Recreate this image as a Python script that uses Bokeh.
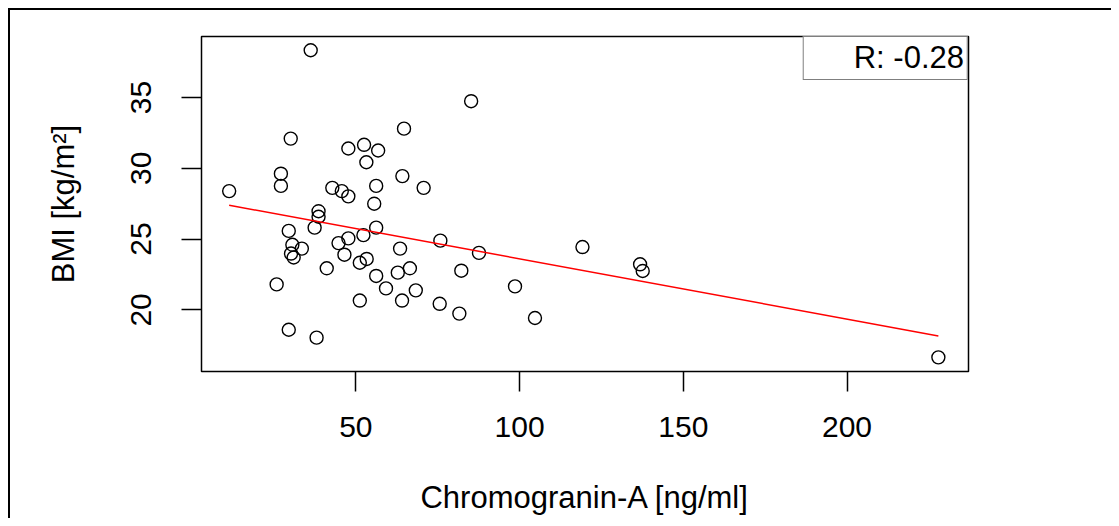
from bokeh.plotting import figure
from bokeh.models import Range1d, FixedTicker, Legend, LegendItem
from bokeh.embed import file_html
from bokeh.resources import INLINE

# Data
cga = [11.3, 27.1, 27.1, 30.1, 36.2, 29.5, 30.6, 33.5, 30.2, 31.0,
       25.8, 29.5, 38.0, 38.6, 38.6, 37.4, 41.1, 42.8, 45.7, 47.7,
       47.7, 52.5, 56.8, 53.2, 44.7, 47.7, 52.3, 46.5, 51.2, 53.3,
       51.2, 56.2, 55.6, 56.2, 56.2, 59.2, 62.8, 63.5, 64.1, 64.2,
       64.7, 66.5, 68.3, 70.7, 75.8, 75.6, 81.6, 82.2, 85.2, 87.6,
       98.6, 104.7, 119.2, 136.8, 137.6, 227.9]
bmi = [28.39, 29.62, 28.76, 32.10, 38.34, 25.58, 24.60, 24.33, 23.98, 23.70,
       21.80, 18.60, 18.04, 26.97, 26.58, 25.81, 22.94, 28.62, 28.39, 28.02,
       31.40, 31.66, 31.26, 30.43, 24.72, 25.05, 25.28, 23.90, 23.33, 23.60,
       20.66, 28.76, 27.50, 25.81, 22.40, 21.52, 22.63, 24.33, 20.66, 29.45,
       32.80, 22.94, 21.38, 28.62, 24.89, 20.43, 19.74, 22.77, 34.74, 24.03,
       21.66, 19.43, 24.44, 23.22, 22.75, 16.65]

fit_cga = [11.3, 227.9]
fit_bmi = [27.39, 18.16]

x_ticks = [50, 100, 150, 200]
y_ticks = [20, 25, 30, 35]
r_text = "R: -0.28"
x_title = "Chromogranin-A [ng/ml]"
y_title = "BMI [kg/m\u00b2]"

FONT = "Liberation Sans"
TICK_FS = "30px"
FS = "31px"

W, H = 1111, 518
LEFT, RIGHT, TOP, BOTTOM = 201, 143, 36, 147

p = figure(width=W, height=H, output_backend="svg", toolbar_location=None,
           x_range=Range1d(2.85, 237.1), y_range=Range1d(15.65, 39.31),
           min_border_left=LEFT, min_border_right=RIGHT,
           min_border_top=TOP, min_border_bottom=BOTTOM,
           background_fill_color="white", border_fill_alpha=0)
# outer frame lines of the picture (left and top), painted behind the canvas
p.styles = {"background": "linear-gradient(#000,#000) 8px 8px / 2px 100% no-repeat, "
                          "linear-gradient(#000,#000) 8px 8px / 100% 2px no-repeat, #fff"}

p.grid.visible = False
p.outline_line_color = "black"
p.outline_line_width = 1.5

for ax in (p.xaxis[0], p.yaxis[0]):
    ax.axis_line_color = None
    ax.major_tick_in = 0
    ax.major_tick_out = 20
    ax.major_tick_line_width = 1.5
    ax.major_tick_line_color = "black"
    ax.minor_tick_line_color = None
    ax.major_label_text_font = FONT
    ax.major_label_text_font_size = TICK_FS
    ax.major_label_text_color = "black"
    ax.axis_label_text_font = FONT
    ax.axis_label_text_font_size = FS
    ax.axis_label_text_font_style = "normal"
    ax.axis_label_text_color = "black"

p.xaxis[0].ticker = FixedTicker(ticks=x_ticks)
p.yaxis[0].ticker = FixedTicker(ticks=y_ticks)
p.xaxis[0].axis_label = x_title
p.xaxis[0].major_label_standoff = 25
p.xaxis[0].axis_label_standoff = 40
p.yaxis[0].axis_label = y_title
p.yaxis[0].major_label_orientation = "vertical"
p.yaxis[0].major_label_standoff = 30
p.yaxis[0].axis_label_standoff = 48

p.scatter(cga, bmi, marker="circle", size=13, fill_color=None,
          line_color="black", line_width=1.4)
p.line(fit_cga, fit_bmi, line_color="red", line_width=1.5)

dummy = p.scatter(x=[], y=[], marker="circle", fill_alpha=0, line_alpha=0)
legend = Legend(items=[LegendItem(label=r_text, renderers=[dummy])],
                location="top_right", margin=0, padding=3,
                border_line_color="black", border_line_width=1.5,
                background_fill_color="white", background_fill_alpha=1,
                label_text_font=FONT, label_text_font_size=FS,
                label_text_color="black",
                glyph_width=42, glyph_height=35, label_height=35,
                label_standoff=5)
p.add_layout(legend)

open("out.html", "w").write(file_html(p, INLINE))
